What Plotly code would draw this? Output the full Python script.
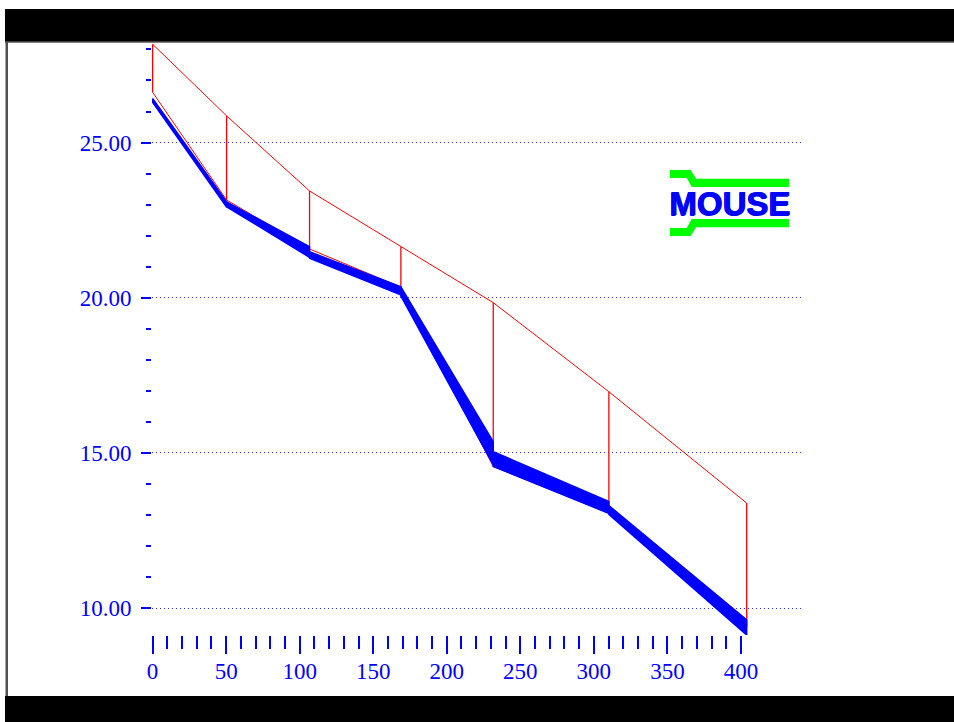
import plotly.graph_objects as go

# ---------------- data ----------------
node_x = [0, 50.3, 106.7, 168.8, 231.6, 310.2, 403.9]
ground_level = [28.17, 25.86, 23.44, 21.64, 19.84, 16.97, 13.38]
invert_level = [26.62, 23.15, 21.57, 20.34, 14.56, 13.06, 9.40]

# water level envelope per pipe (start / end of each pipe)
wl_top_start = [26.42, 23.09, 21.48, 20.35, 15.04, 13.30]
wl_bot_start = [26.30, 22.93, 21.27, 20.05, 14.56, 13.02]
wl_top_end = [23.09, 21.64, 20.35, 15.36, 13.43, 9.62]
wl_bot_end = [22.92, 21.30, 20.09, 14.61, 13.05, 9.13]

x_tick_vals = [0, 50, 100, 150, 200, 250, 300, 350, 400]
x_minor_vals = list(range(0, 401, 10))
y_tick_vals = [10, 15, 20, 25]
y_minor_vals = list(range(10, 29))

# ---------------- layout geometry (pixels) ----------------
W, H = 954, 722
L, R, T, B = 152, 802, 42, 635


def pxx(x):
    return (x - L) / (R - L)


def pxy(y):
    return (B - y) / (B - T)


RED = "#ff0000"
BLUE = "#0000ff"

fig = go.Figure()

# ground line
fig.add_trace(go.Scatter(x=node_x, y=ground_level, mode="lines",
                         line=dict(color=RED, width=1), hoverinfo="skip"))
# invert line
fig.add_trace(go.Scatter(x=node_x, y=invert_level, mode="lines",
                         line=dict(color=RED, width=1), hoverinfo="skip"))
# node verticals
vx, vy = [], []
for x, g, i in zip(node_x, ground_level, invert_level):
    vx += [x, x, None]
    vy += [i, g, None]
fig.add_trace(go.Scatter(x=vx, y=vy, mode="lines",
                         line=dict(color=RED, width=1.3), hoverinfo="skip"))

# water level band
for k in range(len(node_x) - 1):
    x0, x1 = node_x[k], node_x[k + 1]
    fig.add_trace(go.Scatter(
        x=[x0, x1, x1, x0, x0],
        y=[wl_top_start[k], wl_top_end[k], wl_bot_end[k], wl_bot_start[k], wl_top_start[k]],
        mode="lines", fill="toself", fillcolor=BLUE,
        line=dict(color=BLUE, width=1.5), hoverinfo="skip"))

tickfont = dict(family="Liberation Serif", size=23, color=BLUE)

shapes = [
    # top black bar
    dict(type="rect", xref="paper", yref="paper", x0=pxx(5), x1=pxx(W), y0=pxy(42), y1=pxy(9),
         fillcolor="black", line=dict(width=0), layer="below"),
    dict(type="line", xref="paper", yref="paper", x0=pxx(5), x1=pxx(W), y0=pxy(42), y1=pxy(42),
         line=dict(color="#555555", width=1.5), layer="below"),
    # bottom black bar
    dict(type="rect", xref="paper", yref="paper", x0=pxx(5), x1=pxx(W), y0=pxy(H), y1=pxy(696),
         fillcolor="black", line=dict(width=0), layer="below"),
    # left border
    dict(type="rect", xref="paper", yref="paper", x0=pxx(5.5), x1=pxx(8), y0=pxy(696), y1=pxy(42),
         fillcolor="#505050", line=dict(width=0), layer="below"),
    # logo green brackets
    dict(type="path", xref="paper", yref="paper",
         path="M {} {} L {} {} L {} {} L {} {} L {} {} L {} {} L {} {} L {} {} Z".format(
             pxx(670), pxy(170), pxx(690.7), pxy(170), pxx(696), pxy(178.7), pxx(789), pxy(178.7),
             pxx(789), pxy(187), pxx(691.7), pxy(187), pxx(686.7), pxy(178), pxx(670), pxy(178)),
         fillcolor="#00ff00", line=dict(width=0)),
    dict(type="path", xref="paper", yref="paper",
         path="M {} {} L {} {} L {} {} L {} {} L {} {} L {} {} L {} {} L {} {} Z".format(
             pxx(789), pxy(219), pxx(691.7), pxy(219), pxx(686.7), pxy(228), pxx(670), pxy(228),
             pxx(670), pxy(236), pxx(690.7), pxy(236), pxx(696), pxy(227.3), pxx(789), pxy(227.3)),
         fillcolor="#00ff00", line=dict(width=0)),
]

fig.update_layout(
    width=W, height=H, autosize=False,
    margin=dict(l=L, r=W - R, t=T, b=H - B, pad=0),
    paper_bgcolor="white", plot_bgcolor="white",
    showlegend=False,
    shapes=shapes,
    annotations=[dict(text="<b>MOUSE</b>", xref="paper", yref="paper",
                      x=pxx(729.5), y=pxy(203), xanchor="center", yanchor="middle",
                      showarrow=False,
                      font=dict(family="Liberation Sans", size=33, color=BLUE,
                                shadow="1px 0px 0px #0000ff, 0px 1px 0px #0000ff"))],
    xaxis=dict(range=[-0.4, 441.5], tickmode="array", tickvals=x_tick_vals,
               ticks="outside", ticklen=18, tickwidth=1.5, tickcolor=BLUE,
               minor=dict(tickmode="array", tickvals=x_minor_vals, ticks="outside",
                          ticklen=13, tickwidth=1.5, tickcolor=BLUE, showgrid=False),
               ticklabelstandoff=-3,
               showgrid=False, zeroline=False, showline=False, tickfont=tickfont),
    yaxis=dict(range=[9.13, 28.24], tickmode="array", tickvals=y_tick_vals,
               tickformat=".2f",
               ticks="outside", ticklen=10, tickwidth=2, tickcolor=BLUE,
               minor=dict(tickmode="array", tickvals=y_minor_vals, ticks="outside",
                          ticklen=5, tickwidth=2, tickcolor=BLUE, showgrid=False),
               ticklabelstandoff=5,
               showgrid=True, gridcolor="#2a2aff", gridwidth=1, griddash="1px,3px",
               zeroline=False, showline=False, tickfont=tickfont),
)

fig.write_html("out.html")
